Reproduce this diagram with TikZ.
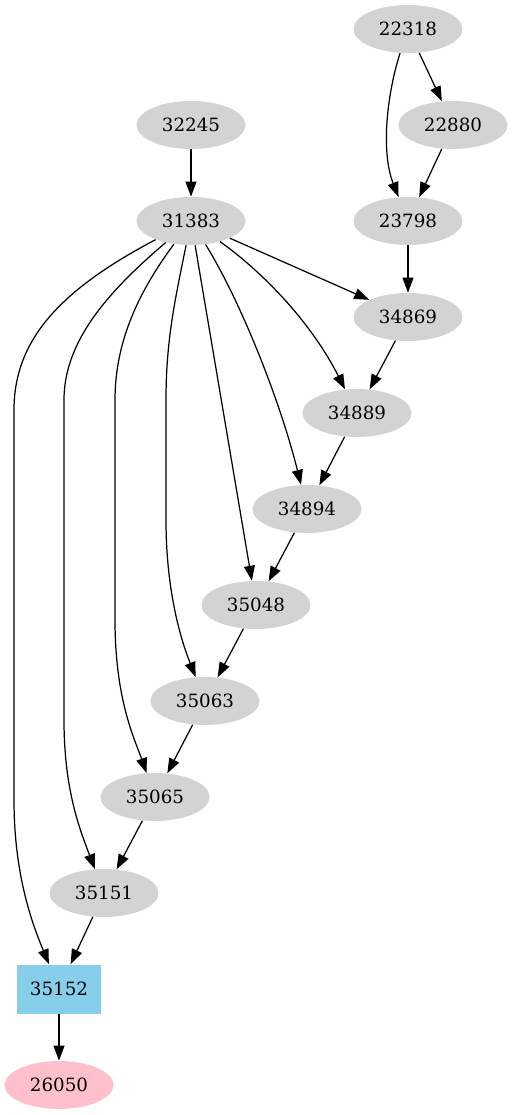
\documentclass[tikz,border=0pt]{standalone}
\usepackage{fontspec}
\setmainfont{DejaVu Serif}
\usetikzlibrary{arrows.meta,shapes.geometric}

\definecolor{lgray}{HTML}{D3D3D3}
\definecolor{skyblue}{HTML}{87CEEB}
\definecolor{lpink}{HTML}{FFC0CB}

\begin{document}
\begin{tikzpicture}[
    x=0.02cm, y=-0.02cm,
    vertex/.style={ellipse, fill=lgray, inner sep=0pt, minimum width=2.18cm, minimum height=0.96cm, font=\fontsize{10.4}{12}\selectfont},
    target/.style={rectangle, fill=skyblue, inner sep=0pt, minimum width=1.68cm, minimum height=0.98cm, font=\fontsize{10.4}{12}\selectfont},
    sink/.style={vertex, fill=lpink},
    arrow/.style={-{Triangle[length=8.5pt,width=6.2pt]}, line width=0.7pt}
]
\useasboundingbox (0,0) rectangle (513,1115);

\node[vertex] (n22318) at (408,29) {22318};
\node[vertex] (n22880) at (453,125) {22880};
\node[vertex] (n32245) at (191,125) {32245};
\node[vertex] (n31383) at (191,221) {31383};
\node[vertex] (n23798) at (408,221) {23798};
\node[vertex] (n34869) at (408,317) {34869};
\node[vertex] (n34889) at (357,413) {34889};
\node[vertex] (n34894) at (307,509) {34894};
\node[vertex] (n35048) at (256,605) {35048};
\node[vertex] (n35063) at (205,701) {35063};
\node[vertex] (n35065) at (155,797) {35065};
\node[vertex] (n35151) at (104,893) {35151};
\node[target] (n35152) at (59,989) {35152};
\node[sink] (n26050) at (59,1085) {26050};

% upper right
\draw[arrow] (n22318) -- (n22880);
\draw[arrow] (n22318) .. controls (388,90) and (380,150) .. (n23798);
\draw[arrow] (n22880) -- (n23798);
\draw[arrow] (n23798) -- (n34869);
\draw[arrow] (n32245) -- (n31383);

% fan out of 31383
\draw[arrow] (n31383) -- (n34869);
\draw[arrow] (n31383) .. controls (260,270) and (310,320) .. (n34889);
\draw[arrow] (n31383) .. controls (240,300) and (280,400) .. (n34894);
\draw[arrow] (n31383) -- (n35048);
\draw[arrow] (n31383) .. controls (175,300) and (166,340) .. (166,400) -- (166,520) .. controls (166,600) and (185,650) .. (n35063);
\draw[arrow] (n31383) .. controls (140,290) and (115,340) .. (115,400) -- (115,620) .. controls (115,700) and (135,740) .. (n35065);
\draw[arrow] (n31383) .. controls (110,290) and (64,340) .. (64,400) -- (64,720) .. controls (64,790) and (80,830) .. (n35151);
\draw[arrow] (n31383) .. controls (60,290) and (14,340) .. (14,410) -- (14,800) .. controls (14,880) and (35,930) .. (n35152);

% chain
\draw[arrow] (n34869) -- (n34889);
\draw[arrow] (n34889) -- (n34894);
\draw[arrow] (n34894) -- (n35048);
\draw[arrow] (n35048) -- (n35063);
\draw[arrow] (n35063) -- (n35065);
\draw[arrow] (n35065) -- (n35151);
\draw[arrow] (n35151) -- (n35152);
\draw[arrow] (n35152) -- (n26050);
\end{tikzpicture}
\end{document}
